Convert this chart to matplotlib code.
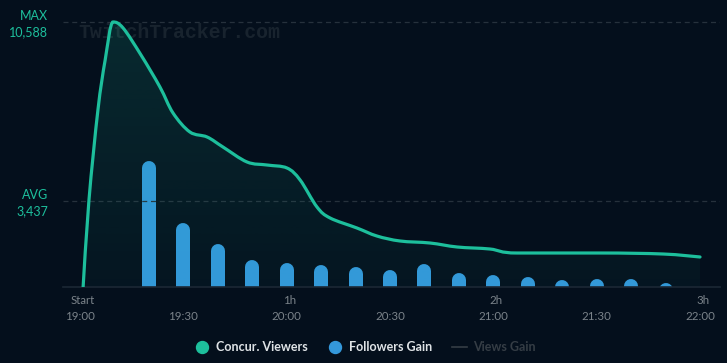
import numpy as np
import matplotlib
matplotlib.use("Agg")
from matplotlib import pyplot as plt
from matplotlib.lines import Line2D
from matplotlib.path import Path
from matplotlib.patches import PathPatch

# minutes after 19:00 and concurrent viewers
view_min = [0.9, 2.6, 5.2, 7.3, 9.6, 12.5, 17.7, 23.2, 27.0, 31.9, 36.9, 41.5, 48.5,
            54.3, 60.1, 63.9, 68.8, 72.6, 80.4, 86.2, 92.9, 101.6, 109.5, 119.0,
            126.9, 151.0, 169.3, 180.0]
viewers = [0, 3476, 7072, 9069, 10588, 10348, 9270, 7991, 6952, 6193, 5993, 5593, 4994,
           4874, 4754, 4275, 3196, 2757, 2357, 2037, 1838, 1758, 1598, 1518,
           1358, 1358, 1318, 1199]

# followers gained per 10 minutes
foll_min = [20, 30, 40, 50, 60, 70, 80, 90, 100, 110, 120, 130, 140, 150, 160, 170]
followers = [1260, 640, 430, 270, 240, 220, 200, 170, 230, 140, 120, 100, 70, 80, 80, 40]

time_ticks = [0, 30, 60, 90, 120, 150, 180]
time_labels = ['19:00', '19:30', '20:00', '20:30', '21:00', '21:30', '22:00']
hour_ticks = [0.9, 60.9, 120.9, 180.9]
hour_labels = ['Start', '1h', '2h', '3h']

max_v = 10588
avg_v = 3437

bg = '#040f1c'
teal = '#1dbf9c'
blue = '#3498db'


def smooth_path(xs, ys, close=False):
    # catmull-rom through the points, flat tangent at peaks, as bezier segments
    p = np.column_stack([xs, ys]).astype(float)
    n = len(p)
    tang = np.zeros_like(p)
    for i in range(n):
        a = p[max(i - 1, 0)]
        b = p[min(i + 1, n - 1)]
        tang[i] = (b - a) / 6
        if 0 < i < n - 1 and (p[i, 1] - a[1]) * (b[1] - p[i, 1]) <= 0:
            tang[i, 1] = 0
    verts = [p[0]]
    codes = [Path.MOVETO]
    for i in range(n - 1):
        verts += [p[i] + tang[i], p[i + 1] - tang[i + 1], p[i + 1]]
        codes += [Path.CURVE4] * 3
    if close:
        verts += [(xs[-1], 0), (xs[0], 0), p[0]]
        codes += [Path.LINETO, Path.LINETO, Path.CLOSEPOLY]
    return Path(verts, codes)


plt.rcParams['font.family'] = ['Lato', 'DejaVu Sans']

fig = plt.figure(figsize=(7.27, 3.63), dpi=100, facecolor=bg)
ax = fig.add_axes([63 / 727, 76 / 363, 657 / 727, 277 / 363])
ax.set_facecolor(bg)
ax.set_xlim(-4.94, 185.8)
ax.set_ylim(0, 11067)

# gradient fill under the viewers curve
area = PathPatch(smooth_path(view_min, viewers, close=True), fc='none', ec='none')
ax.add_patch(area)
grad = np.zeros((100, 1, 4))
grad[:, 0, :3] = matplotlib.colors.to_rgb(teal)
grad[:, 0, 3] = np.linspace(0.16, 0.04, 100)
img = ax.imshow(grad, aspect='auto', extent=[-4.94, 185.8, 0, 11067], origin='upper', zorder=1)
img.set_clip_path(area)

ax.axhline(max_v, color='#26313c', lw=0.9, dashes=(4, 3), zorder=0.5)
ax.axhline(avg_v, color='#26313c', lw=0.9, dashes=(4, 3), zorder=0.5)

ax.text(-0.6, 10150, 'TwitchTracker.com', family='Liberation Mono',
        weight='bold', fontsize=14.3, color='#18232e', va='center', ha='left', zorder=0.6)

# followers bars on a second scale, round tops
ax2 = ax.twinx()
ax2.set_ylim(0, 2770)
r = 70  # cap radius in follower units (7 px)
ax2.vlines(foll_min, -500, np.array(followers) - r, color=blue, lw=10.08,
           capstyle='round', zorder=2)

line = PathPatch(smooth_path(view_min, viewers), fc='none', ec=teal, lw=2.3,
                 zorder=3, capstyle='round')
ax.add_patch(line)
ax.set_zorder(ax2.get_zorder() + 1)
ax.patch.set_visible(False)
ax2.patch.set_visible(True)
ax2.set_facecolor(bg)
ax2.set_yticks([])

for a in (ax, ax2):
    for s in a.spines.values():
        s.set_visible(False)
ax.spines['bottom'].set_visible(True)
ax.spines['bottom'].set_color('#1c2835')
ax.spines['bottom'].set_linewidth(1.2)

ax.set_yticks([])
ax.set_xticks(time_ticks, time_labels)
ax.set_xticks(hour_ticks, hour_labels, minor=True)
ax.tick_params(axis='x', which='major', length=0, pad=17, labelsize=8.3, labelcolor='#7b838a')
ax.tick_params(axis='x', which='minor', length=0, pad=6, labelsize=8.3, labelcolor='#7b838a')

# MAX / AVG labels on the left
for v, name in ((max_v, 'MAX'), (avg_v, 'AVG')):
    ax.annotate(name, (0, v), xycoords=('axes fraction', 'data'), xytext=(-15, 6),
                textcoords='offset pixels', ha='right', va='center', fontsize=9, color=teal)
    ax.annotate(f'{v:,}', (0, v), xycoords=('axes fraction', 'data'), xytext=(-15, -10),
                textcoords='offset pixels', ha='right', va='center', fontsize=9, color=teal)

handles = [Line2D([], [], ls='none', marker='o', ms=8.6, color=teal),
           Line2D([], [], ls='none', marker='o', ms=8.6, color=blue),
           Line2D([], [], color='#353d45', lw=1.2)]
leg = fig.legend(handles, ['Concur. Viewers', 'Followers Gain', 'Views Gain'],
                 loc='center', bbox_to_anchor=(0.502, 0.044), ncol=3, frameon=False,
                 prop={'size': 9, 'weight': 'bold'}, handlelength=1.2, handletextpad=0.5,
                 columnspacing=1.6)
for t, c in zip(leg.get_texts(), ['#dfe3e6', '#dfe3e6', '#353d45']):
    t.set_color(c)

fig.savefig('out.png', dpi=100, facecolor=bg)
